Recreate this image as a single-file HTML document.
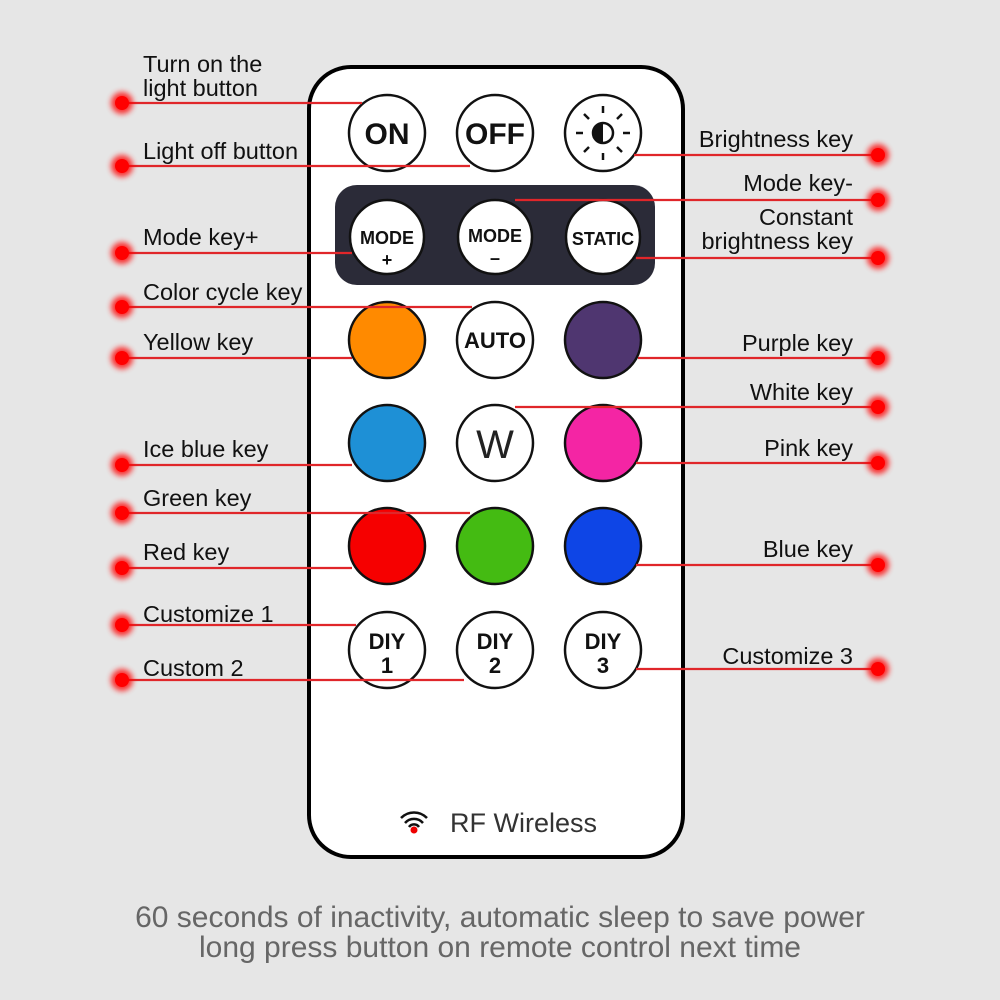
<!DOCTYPE html>
<html><head><meta charset="utf-8"><style>
html,body{margin:0;padding:0;background:#e6e6e6;}
svg{display:block}
text{font-family:"Liberation Sans",Arial,sans-serif;}
</style></head><body>
<svg width="1000" height="1000" viewBox="0 0 1000 1000" xmlns="http://www.w3.org/2000/svg">
<defs>
<filter id="g" x="-1" y="-1" width="3" height="3"><feGaussianBlur stdDeviation="3"/></filter>
</defs>
<rect width="1000" height="1000" fill="#e6e6e6"/>
<rect x="309" y="67" width="374" height="790" rx="42" fill="#fff" stroke="#000" stroke-width="4"/>
<rect x="335" y="185" width="320" height="100" rx="22" fill="#2b2b38"/>
<g stroke="#111" stroke-width="2.5">
<circle cx="387" cy="133" r="38" fill="#fff"/>
<circle cx="495" cy="133" r="38" fill="#fff"/>
<circle cx="603" cy="133" r="38" fill="#fff"/>
<circle cx="387" cy="237" r="37" fill="#fff"/>
<circle cx="495" cy="237" r="37" fill="#fff"/>
<circle cx="603" cy="237" r="37" fill="#fff"/>
<circle cx="387" cy="340" r="38" fill="#ff8a00"/>
<circle cx="495" cy="340" r="38" fill="#fff"/>
<circle cx="603" cy="340" r="38" fill="#4f3670"/>
<circle cx="387" cy="443" r="38" fill="#1e90d6"/>
<circle cx="495" cy="443" r="38" fill="#fff"/>
<circle cx="603" cy="443" r="38" fill="#f425a4"/>
<circle cx="387" cy="546" r="38" fill="#f60000"/>
<circle cx="495" cy="546" r="38" fill="#44bb12"/>
<circle cx="603" cy="546" r="38" fill="#0e45e6"/>
<circle cx="387" cy="650" r="38" fill="#fff"/>
<circle cx="495" cy="650" r="38" fill="#fff"/>
<circle cx="603" cy="650" r="38" fill="#fff"/>
</g>
<g font-weight="bold" text-anchor="middle" fill="#111">
<text x="387" y="144" font-size="30">ON</text>
<text x="495" y="144" font-size="30">OFF</text>
<text x="387" y="244" font-size="18">MODE</text>
<text x="387" y="266" font-size="18">+</text>
<text x="495" y="242" font-size="18">MODE</text>
<text x="495" y="264" font-size="18">–</text>
<text x="603" y="245" font-size="18">STATIC</text>
<text x="495" y="348" font-size="22">AUTO</text>
<text x="387" y="649" font-size="22">DIY</text><text x="387" y="673" font-size="22">1</text>
<text x="495" y="649" font-size="22">DIY</text><text x="495" y="673" font-size="22">2</text>
<text x="603" y="649" font-size="22">DIY</text><text x="603" y="673" font-size="22">3</text>
</g>
<text x="495" y="458" font-size="40" text-anchor="middle" fill="#222">W</text>
<g stroke="#111" stroke-width="2.5">
<line x1="603" y1="106" x2="603" y2="113"/><line x1="603" y1="153" x2="603" y2="160"/>
<line x1="576" y1="133" x2="583" y2="133"/><line x1="623" y1="133" x2="630" y2="133"/>
<line x1="584" y1="114" x2="589" y2="119"/><line x1="617" y1="147" x2="622" y2="152"/>
<line x1="622" y1="114" x2="617" y2="119"/><line x1="589" y1="147" x2="584" y2="152"/>
<circle cx="603" cy="133" r="10" fill="#fff"/>
</g>
<path d="M603 123 A10 10 0 0 0 603 143 Z" fill="#111"/>
<g stroke="#e0262a" stroke-width="2.2">
<line x1="122" y1="103" x2="362" y2="103"/>
<line x1="122" y1="166" x2="470" y2="166"/>
<line x1="122" y1="253" x2="352" y2="253"/>
<line x1="122" y1="307" x2="472" y2="307"/>
<line x1="122" y1="358" x2="352" y2="358"/>
<line x1="122" y1="465" x2="352" y2="465"/>
<line x1="122" y1="513" x2="470" y2="513"/>
<line x1="122" y1="568" x2="352" y2="568"/>
<line x1="122" y1="625" x2="356" y2="625"/>
<line x1="122" y1="680" x2="464" y2="680"/>
<line x1="878" y1="155" x2="634" y2="155"/>
<line x1="878" y1="200" x2="515" y2="200"/>
<line x1="878" y1="258" x2="636" y2="258"/>
<line x1="878" y1="358" x2="638" y2="358"/>
<line x1="878" y1="407" x2="515" y2="407"/>
<line x1="878" y1="463" x2="636" y2="463"/>
<line x1="878" y1="565" x2="636" y2="565"/>
<line x1="878" y1="669" x2="636" y2="669"/>
</g>
<g fill="#ff0000">
<g filter="url(#g)" opacity="0.8">
<circle cx="122" cy="103" r="11"/><circle cx="122" cy="166" r="11"/><circle cx="122" cy="253" r="11"/><circle cx="122" cy="307" r="11"/><circle cx="122" cy="358" r="11"/><circle cx="122" cy="465" r="11"/><circle cx="122" cy="513" r="11"/><circle cx="122" cy="568" r="11"/><circle cx="122" cy="625" r="11"/><circle cx="122" cy="680" r="11"/>
<circle cx="878" cy="155" r="11"/><circle cx="878" cy="200" r="11"/><circle cx="878" cy="258" r="11"/><circle cx="878" cy="358" r="11"/><circle cx="878" cy="407" r="11"/><circle cx="878" cy="463" r="11"/><circle cx="878" cy="565" r="11"/><circle cx="878" cy="669" r="11"/>
</g>
<circle cx="122" cy="103" r="7"/><circle cx="122" cy="166" r="7"/><circle cx="122" cy="253" r="7"/><circle cx="122" cy="307" r="7"/><circle cx="122" cy="358" r="7"/><circle cx="122" cy="465" r="7"/><circle cx="122" cy="513" r="7"/><circle cx="122" cy="568" r="7"/><circle cx="122" cy="625" r="7"/><circle cx="122" cy="680" r="7"/>
<circle cx="878" cy="155" r="7"/><circle cx="878" cy="200" r="7"/><circle cx="878" cy="258" r="7"/><circle cx="878" cy="358" r="7"/><circle cx="878" cy="407" r="7"/><circle cx="878" cy="463" r="7"/><circle cx="878" cy="565" r="7"/><circle cx="878" cy="669" r="7"/>
</g>
<g font-size="23.5" fill="#111">
<text x="143" y="72">Turn on the</text>
<text x="143" y="96">light button</text>
<text x="143" y="159">Light off button</text>
<text x="143" y="245">Mode key+</text>
<text x="143" y="300">Color cycle key</text>
<text x="143" y="350">Yellow key</text>
<text x="143" y="457">Ice blue key</text>
<text x="143" y="506">Green key</text>
<text x="143" y="560">Red key</text>
<text x="143" y="622">Customize 1</text>
<text x="143" y="676">Custom 2</text>
</g>
<g font-size="23.5" fill="#111" text-anchor="end">
<text x="853" y="147">Brightness key</text>
<text x="853" y="191">Mode key-</text>
<text x="853" y="225">Constant</text>
<text x="853" y="249">brightness key</text>
<text x="853" y="351">Purple key</text>
<text x="853" y="400">White key</text>
<text x="853" y="456">Pink key</text>
<text x="853" y="557">Blue key</text>
<text x="853" y="664">Customize 3</text>
</g>
<g fill="none" stroke="#111" stroke-width="2.5">
<path d="M401 818 A18 18 0 0 1 427 818"/>
<path d="M405 823 A12 12 0 0 1 423 823"/>
<path d="M409 827 A6 6 0 0 1 419 827"/>
</g>
<circle cx="414" cy="830" r="3.5" fill="#e00"/>
<text x="450" y="832" font-size="27" fill="#333" font-family="DejaVu Sans, sans-serif">RF Wireless</text>
<g font-size="30" fill="#666" text-anchor="middle">
<text x="500" y="927">60 seconds of inactivity, automatic sleep to save power</text>
<text x="500" y="957">long press button on remote control next time</text>
</g>
</svg>
</body></html>
